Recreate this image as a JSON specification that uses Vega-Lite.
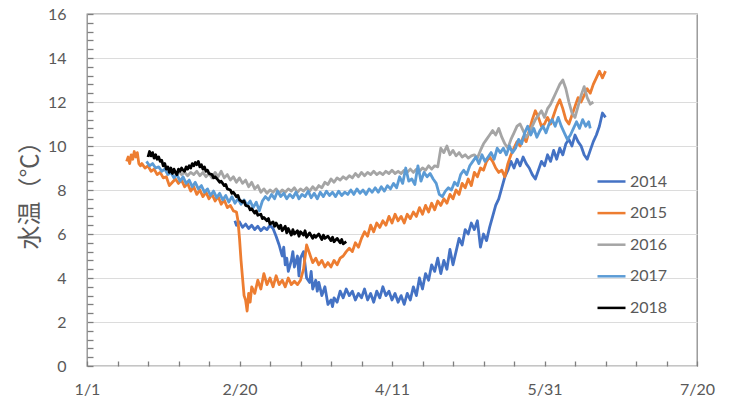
{
"$schema": "https://vega.github.io/schema/vega-lite/v6.json",
"width": 610, "height": 352,
"autosize": {"type": "none"},
"padding": {"left": 87, "top": 14, "right": 34, "bottom": 42},
"config": {"view": {"stroke": "#8c8c8c", "strokeWidth": 1.3}, "font": "Lato"},
"data": {"values": [
{"year":"2014","day":48.5,"temp":6.6},{"year":"2014","day":49,"temp":6.4},{"year":"2014","day":50,"temp":6.55},{"year":"2014","day":51,"temp":6.3},{"year":"2014","day":52,"temp":6.45},{"year":"2014","day":53,"temp":6.25},{"year":"2014","day":54,"temp":6.4},{"year":"2014","day":55,"temp":6.2},{"year":"2014","day":56,"temp":6.35},{"year":"2014","day":57,"temp":6.15},{"year":"2014","day":58,"temp":6.3},{"year":"2014","day":59,"temp":6.2},{"year":"2014","day":60,"temp":6.4},{"year":"2014","day":61,"temp":6.25},{"year":"2014","day":62,"temp":5.9},{"year":"2014","day":63,"temp":5.5},{"year":"2014","day":64,"temp":5.0},{"year":"2014","day":64.5,"temp":5.4},{"year":"2014","day":65,"temp":4.6},{"year":"2014","day":65.5,"temp":4.9},{"year":"2014","day":66,"temp":4.3},{"year":"2014","day":67,"temp":4.8},{"year":"2014","day":67.5,"temp":5.2},{"year":"2014","day":68,"temp":4.5},{"year":"2014","day":69,"temp":5.0},{"year":"2014","day":69.5,"temp":4.1},{"year":"2014","day":70,"temp":4.9},{"year":"2014","day":71,"temp":5.2},{"year":"2014","day":72,"temp":4.0},{"year":"2014","day":73,"temp":3.8},{"year":"2014","day":73.5,"temp":4.3},{"year":"2014","day":74,"temp":3.5},{"year":"2014","day":75,"temp":3.9},{"year":"2014","day":75.5,"temp":3.4},{"year":"2014","day":76,"temp":3.8},{"year":"2014","day":77,"temp":3.2},{"year":"2014","day":78,"temp":3.6},{"year":"2014","day":79,"temp":2.8},{"year":"2014","day":80,"temp":3.0},{"year":"2014","day":80.5,"temp":2.7},{"year":"2014","day":81,"temp":3.1},{"year":"2014","day":82,"temp":2.9},{"year":"2014","day":83,"temp":3.4},{"year":"2014","day":84,"temp":3.1},{"year":"2014","day":85,"temp":3.5},{"year":"2014","day":86,"temp":3.2},{"year":"2014","day":87,"temp":3.4},{"year":"2014","day":88,"temp":3.0},{"year":"2014","day":89,"temp":3.3},{"year":"2014","day":90,"temp":3.1},{"year":"2014","day":91,"temp":3.5},{"year":"2014","day":92,"temp":3.0},{"year":"2014","day":93,"temp":3.3},{"year":"2014","day":94,"temp":2.9},{"year":"2014","day":95,"temp":3.4},{"year":"2014","day":96,"temp":3.1},{"year":"2014","day":97,"temp":3.6},{"year":"2014","day":98,"temp":3.2},{"year":"2014","day":99,"temp":3.4},{"year":"2014","day":100,"temp":3.0},{"year":"2014","day":101,"temp":3.3},{"year":"2014","day":102,"temp":2.9},{"year":"2014","day":103,"temp":3.2},{"year":"2014","day":104,"temp":2.8},{"year":"2014","day":105,"temp":3.3},{"year":"2014","day":106,"temp":3.0},{"year":"2014","day":107,"temp":3.6},{"year":"2014","day":108,"temp":3.2},{"year":"2014","day":109,"temp":4.0},{"year":"2014","day":110,"temp":3.5},{"year":"2014","day":111,"temp":4.2},{"year":"2014","day":112,"temp":3.9},{"year":"2014","day":113,"temp":4.6},{"year":"2014","day":114,"temp":4.3},{"year":"2014","day":115,"temp":4.9},{"year":"2014","day":116,"temp":4.2},{"year":"2014","day":117,"temp":4.8},{"year":"2014","day":118,"temp":4.4},{"year":"2014","day":119,"temp":5.3},{"year":"2014","day":120,"temp":4.6},{"year":"2014","day":121,"temp":5.2},{"year":"2014","day":122,"temp":5.8},{"year":"2014","day":123,"temp":5.5},{"year":"2014","day":124,"temp":6.2},{"year":"2014","day":125,"temp":6.0},{"year":"2014","day":126,"temp":6.5},{"year":"2014","day":127,"temp":6.2},{"year":"2014","day":128,"temp":6.6},{"year":"2014","day":129,"temp":5.4},{"year":"2014","day":130,"temp":6.0},{"year":"2014","day":131,"temp":5.7},{"year":"2014","day":132,"temp":6.3},{"year":"2014","day":133,"temp":6.8},{"year":"2014","day":134,"temp":7.3},{"year":"2014","day":135,"temp":7.6},{"year":"2014","day":136,"temp":8.1},{"year":"2014","day":137,"temp":8.6},{"year":"2014","day":138,"temp":8.9},{"year":"2014","day":139,"temp":9.3},{"year":"2014","day":140,"temp":9.0},{"year":"2014","day":141,"temp":9.4},{"year":"2014","day":142,"temp":9.1},{"year":"2014","day":143,"temp":9.5},{"year":"2014","day":144,"temp":9.2},{"year":"2014","day":145,"temp":9.0},{"year":"2014","day":146,"temp":8.7},{"year":"2014","day":147,"temp":8.5},{"year":"2014","day":148,"temp":8.9},{"year":"2014","day":149,"temp":9.3},{"year":"2014","day":150,"temp":9.1},{"year":"2014","day":151,"temp":9.6},{"year":"2014","day":152,"temp":9.3},{"year":"2014","day":153,"temp":9.8},{"year":"2014","day":154,"temp":9.4},{"year":"2014","day":155,"temp":9.9},{"year":"2014","day":156,"temp":9.6},{"year":"2014","day":157,"temp":10.1},{"year":"2014","day":158,"temp":10.3},{"year":"2014","day":159,"temp":10.0},{"year":"2014","day":160,"temp":10.5},{"year":"2014","day":161,"temp":10.2},{"year":"2014","day":162,"temp":10.0},{"year":"2014","day":163,"temp":9.6},{"year":"2014","day":164,"temp":9.4},{"year":"2014","day":165,"temp":9.8},{"year":"2014","day":166,"temp":10.2},{"year":"2014","day":167,"temp":10.5},{"year":"2014","day":168,"temp":10.9},{"year":"2014","day":169,"temp":11.5},{"year":"2014","day":170,"temp":11.3},
{"year":"2015","day":13,"temp":9.3},{"year":"2015","day":13.5,"temp":9.5},{"year":"2015","day":14,"temp":9.2},{"year":"2015","day":14.5,"temp":9.6},{"year":"2015","day":15,"temp":9.4},{"year":"2015","day":15.5,"temp":9.75},{"year":"2015","day":16,"temp":9.5},{"year":"2015","day":16.5,"temp":9.7},{"year":"2015","day":17,"temp":9.2},{"year":"2015","day":17.5,"temp":9.1},{"year":"2015","day":18,"temp":9.2},{"year":"2015","day":19,"temp":9.0},{"year":"2015","day":20,"temp":9.1},{"year":"2015","day":21,"temp":8.85},{"year":"2015","day":22,"temp":8.95},{"year":"2015","day":23,"temp":8.7},{"year":"2015","day":24,"temp":8.8},{"year":"2015","day":25,"temp":8.55},{"year":"2015","day":26,"temp":8.6},{"year":"2015","day":27,"temp":8.2},{"year":"2015","day":28,"temp":8.35},{"year":"2015","day":29,"temp":8.5},{"year":"2015","day":30,"temp":8.3},{"year":"2015","day":31,"temp":8.45},{"year":"2015","day":32,"temp":8.15},{"year":"2015","day":33,"temp":8.3},{"year":"2015","day":34,"temp":7.95},{"year":"2015","day":35,"temp":8.15},{"year":"2015","day":36,"temp":7.8},{"year":"2015","day":37,"temp":8.0},{"year":"2015","day":38,"temp":7.7},{"year":"2015","day":39,"temp":7.9},{"year":"2015","day":40,"temp":7.6},{"year":"2015","day":41,"temp":7.8},{"year":"2015","day":42,"temp":7.5},{"year":"2015","day":43,"temp":7.7},{"year":"2015","day":44,"temp":7.35},{"year":"2015","day":45,"temp":7.55},{"year":"2015","day":46,"temp":7.2},{"year":"2015","day":47,"temp":7.3},{"year":"2015","day":48,"temp":7.05},{"year":"2015","day":49,"temp":7.0},{"year":"2015","day":49.5,"temp":6.6},{"year":"2015","day":50,"temp":5.8},{"year":"2015","day":50.5,"temp":4.8},{"year":"2015","day":51,"temp":4.0},{"year":"2015","day":51.5,"temp":3.2},{"year":"2015","day":52,"temp":3.0},{"year":"2015","day":52.5,"temp":2.5},{"year":"2015","day":53,"temp":3.3},{"year":"2015","day":53.5,"temp":2.9},{"year":"2015","day":54,"temp":3.6},{"year":"2015","day":55,"temp":3.3},{"year":"2015","day":56,"temp":3.9},{"year":"2015","day":57,"temp":3.5},{"year":"2015","day":58,"temp":4.2},{"year":"2015","day":59,"temp":3.7},{"year":"2015","day":60,"temp":4.0},{"year":"2015","day":61,"temp":3.6},{"year":"2015","day":62,"temp":4.1},{"year":"2015","day":63,"temp":3.7},{"year":"2015","day":64,"temp":3.9},{"year":"2015","day":65,"temp":3.6},{"year":"2015","day":66,"temp":4.0},{"year":"2015","day":67,"temp":3.7},{"year":"2015","day":68,"temp":3.85},{"year":"2015","day":69,"temp":3.7},{"year":"2015","day":70,"temp":3.9},{"year":"2015","day":71,"temp":4.4},{"year":"2015","day":72,"temp":5.5},{"year":"2015","day":73,"temp":5.1},{"year":"2015","day":74,"temp":4.7},{"year":"2015","day":75,"temp":4.9},{"year":"2015","day":76,"temp":4.6},{"year":"2015","day":77,"temp":4.8},{"year":"2015","day":78,"temp":4.5},{"year":"2015","day":79,"temp":4.7},{"year":"2015","day":80,"temp":4.5},{"year":"2015","day":81,"temp":4.8},{"year":"2015","day":82,"temp":4.6},{"year":"2015","day":83,"temp":4.9},{"year":"2015","day":84,"temp":5.0},{"year":"2015","day":85,"temp":5.2},{"year":"2015","day":86,"temp":5.35},{"year":"2015","day":87,"temp":5.2},{"year":"2015","day":88,"temp":5.6},{"year":"2015","day":89,"temp":5.4},{"year":"2015","day":90,"temp":5.8},{"year":"2015","day":91,"temp":6.1},{"year":"2015","day":92,"temp":5.9},{"year":"2015","day":93,"temp":6.4},{"year":"2015","day":94,"temp":6.1},{"year":"2015","day":95,"temp":6.5},{"year":"2015","day":96,"temp":6.3},{"year":"2015","day":97,"temp":6.6},{"year":"2015","day":98,"temp":6.4},{"year":"2015","day":99,"temp":6.8},{"year":"2015","day":100,"temp":6.5},{"year":"2015","day":101,"temp":6.9},{"year":"2015","day":102,"temp":6.6},{"year":"2015","day":103,"temp":6.8},{"year":"2015","day":104,"temp":6.5},{"year":"2015","day":105,"temp":6.9},{"year":"2015","day":106,"temp":6.7},{"year":"2015","day":107,"temp":7.0},{"year":"2015","day":108,"temp":6.8},{"year":"2015","day":109,"temp":7.2},{"year":"2015","day":110,"temp":6.9},{"year":"2015","day":111,"temp":7.3},{"year":"2015","day":112,"temp":7.0},{"year":"2015","day":113,"temp":7.4},{"year":"2015","day":114,"temp":7.1},{"year":"2015","day":115,"temp":7.5},{"year":"2015","day":116,"temp":7.3},{"year":"2015","day":117,"temp":7.6},{"year":"2015","day":118,"temp":7.4},{"year":"2015","day":119,"temp":7.8},{"year":"2015","day":120,"temp":7.6},{"year":"2015","day":121,"temp":8.0},{"year":"2015","day":122,"temp":7.8},{"year":"2015","day":123,"temp":8.3},{"year":"2015","day":124,"temp":8.1},{"year":"2015","day":125,"temp":8.5},{"year":"2015","day":126,"temp":8.2},{"year":"2015","day":127,"temp":8.8},{"year":"2015","day":128,"temp":8.6},{"year":"2015","day":129,"temp":9.0},{"year":"2015","day":130,"temp":8.9},{"year":"2015","day":131,"temp":9.3},{"year":"2015","day":132,"temp":9.5},{"year":"2015","day":133,"temp":9.3},{"year":"2015","day":134,"temp":9.0},{"year":"2015","day":135,"temp":8.8},{"year":"2015","day":136,"temp":8.9},{"year":"2015","day":137,"temp":8.6},{"year":"2015","day":138,"temp":9.2},{"year":"2015","day":139,"temp":9.6},{"year":"2015","day":140,"temp":9.9},{"year":"2015","day":141,"temp":10.2},{"year":"2015","day":142,"temp":10.0},{"year":"2015","day":143,"temp":10.4},{"year":"2015","day":144,"temp":10.2},{"year":"2015","day":145,"temp":10.7},{"year":"2015","day":146,"temp":11.2},{"year":"2015","day":147,"temp":11.6},{"year":"2015","day":148,"temp":11.3},{"year":"2015","day":149,"temp":10.9},{"year":"2015","day":150,"temp":11.0},{"year":"2015","day":151,"temp":11.3},{"year":"2015","day":152,"temp":11.0},{"year":"2015","day":153,"temp":11.4},{"year":"2015","day":154,"temp":11.8},{"year":"2015","day":155,"temp":12.1},{"year":"2015","day":156,"temp":11.7},{"year":"2015","day":157,"temp":11.2},{"year":"2015","day":158,"temp":11.0},{"year":"2015","day":159,"temp":11.4},{"year":"2015","day":160,"temp":11.8},{"year":"2015","day":161,"temp":12.2},{"year":"2015","day":162,"temp":12.0},{"year":"2015","day":163,"temp":12.3},{"year":"2015","day":164,"temp":12.6},{"year":"2015","day":165,"temp":12.4},{"year":"2015","day":166,"temp":12.8},{"year":"2015","day":167,"temp":13.1},{"year":"2015","day":168,"temp":13.4},{"year":"2015","day":169,"temp":13.1},{"year":"2015","day":170,"temp":13.4},
{"year":"2016","day":28,"temp":8.9},{"year":"2016","day":29,"temp":8.75},{"year":"2016","day":30,"temp":8.85},{"year":"2016","day":31,"temp":8.7},{"year":"2016","day":32,"temp":8.8},{"year":"2016","day":33,"temp":8.65},{"year":"2016","day":34,"temp":8.8},{"year":"2016","day":35,"temp":8.7},{"year":"2016","day":36,"temp":8.85},{"year":"2016","day":37,"temp":8.65},{"year":"2016","day":38,"temp":8.8},{"year":"2016","day":39,"temp":8.6},{"year":"2016","day":40,"temp":8.75},{"year":"2016","day":41,"temp":8.55},{"year":"2016","day":42,"temp":8.8},{"year":"2016","day":43,"temp":8.6},{"year":"2016","day":44,"temp":8.85},{"year":"2016","day":45,"temp":8.55},{"year":"2016","day":46,"temp":8.7},{"year":"2016","day":47,"temp":8.45},{"year":"2016","day":48,"temp":8.6},{"year":"2016","day":49,"temp":8.35},{"year":"2016","day":50,"temp":8.55},{"year":"2016","day":51,"temp":8.3},{"year":"2016","day":52,"temp":8.45},{"year":"2016","day":53,"temp":8.15},{"year":"2016","day":54,"temp":8.35},{"year":"2016","day":55,"temp":8.05},{"year":"2016","day":56,"temp":8.2},{"year":"2016","day":57,"temp":7.9},{"year":"2016","day":58,"temp":8.05},{"year":"2016","day":59,"temp":7.85},{"year":"2016","day":60,"temp":8.0},{"year":"2016","day":61,"temp":7.9},{"year":"2016","day":62,"temp":8.05},{"year":"2016","day":63,"temp":7.85},{"year":"2016","day":64,"temp":8.0},{"year":"2016","day":65,"temp":7.9},{"year":"2016","day":66,"temp":8.05},{"year":"2016","day":67,"temp":7.95},{"year":"2016","day":68,"temp":8.1},{"year":"2016","day":69,"temp":7.9},{"year":"2016","day":70,"temp":8.05},{"year":"2016","day":71,"temp":7.95},{"year":"2016","day":72,"temp":8.1},{"year":"2016","day":73,"temp":7.95},{"year":"2016","day":74,"temp":8.15},{"year":"2016","day":75,"temp":8.0},{"year":"2016","day":76,"temp":8.2},{"year":"2016","day":77,"temp":8.1},{"year":"2016","day":78,"temp":8.35},{"year":"2016","day":79,"temp":8.25},{"year":"2016","day":80,"temp":8.5},{"year":"2016","day":81,"temp":8.35},{"year":"2016","day":82,"temp":8.55},{"year":"2016","day":83,"temp":8.45},{"year":"2016","day":84,"temp":8.6},{"year":"2016","day":85,"temp":8.5},{"year":"2016","day":86,"temp":8.65},{"year":"2016","day":87,"temp":8.55},{"year":"2016","day":88,"temp":8.75},{"year":"2016","day":89,"temp":8.6},{"year":"2016","day":90,"temp":8.8},{"year":"2016","day":91,"temp":8.65},{"year":"2016","day":92,"temp":8.8},{"year":"2016","day":93,"temp":8.7},{"year":"2016","day":94,"temp":8.85},{"year":"2016","day":95,"temp":8.7},{"year":"2016","day":96,"temp":8.8},{"year":"2016","day":97,"temp":8.7},{"year":"2016","day":98,"temp":8.85},{"year":"2016","day":99,"temp":8.75},{"year":"2016","day":100,"temp":8.9},{"year":"2016","day":101,"temp":8.75},{"year":"2016","day":102,"temp":8.85},{"year":"2016","day":103,"temp":8.75},{"year":"2016","day":104,"temp":8.9},{"year":"2016","day":105,"temp":8.8},{"year":"2016","day":106,"temp":8.95},{"year":"2016","day":107,"temp":8.8},{"year":"2016","day":108,"temp":8.95},{"year":"2016","day":109,"temp":8.85},{"year":"2016","day":110,"temp":9.0},{"year":"2016","day":111,"temp":8.9},{"year":"2016","day":112,"temp":9.1},{"year":"2016","day":113,"temp":8.95},{"year":"2016","day":114,"temp":9.1},{"year":"2016","day":115,"temp":9.05},{"year":"2016","day":116,"temp":9.9},{"year":"2016","day":117,"temp":9.7},{"year":"2016","day":118,"temp":10.0},{"year":"2016","day":119,"temp":9.6},{"year":"2016","day":120,"temp":9.8},{"year":"2016","day":121,"temp":9.55},{"year":"2016","day":122,"temp":9.7},{"year":"2016","day":123,"temp":9.5},{"year":"2016","day":124,"temp":9.6},{"year":"2016","day":125,"temp":9.45},{"year":"2016","day":126,"temp":9.55},{"year":"2016","day":127,"temp":9.6},{"year":"2016","day":128,"temp":9.45},{"year":"2016","day":129,"temp":9.8},{"year":"2016","day":130,"temp":10.1},{"year":"2016","day":131,"temp":10.3},{"year":"2016","day":132,"temp":10.5},{"year":"2016","day":133,"temp":10.7},{"year":"2016","day":134,"temp":10.5},{"year":"2016","day":135,"temp":10.8},{"year":"2016","day":136,"temp":10.4},{"year":"2016","day":137,"temp":10.1},{"year":"2016","day":138,"temp":9.9},{"year":"2016","day":139,"temp":10.3},{"year":"2016","day":140,"temp":10.6},{"year":"2016","day":141,"temp":10.9},{"year":"2016","day":142,"temp":11.0},{"year":"2016","day":143,"temp":10.7},{"year":"2016","day":144,"temp":10.4},{"year":"2016","day":145,"temp":10.6},{"year":"2016","day":146,"temp":10.9},{"year":"2016","day":147,"temp":11.2},{"year":"2016","day":148,"temp":11.4},{"year":"2016","day":149,"temp":11.6},{"year":"2016","day":150,"temp":11.3},{"year":"2016","day":151,"temp":11.7},{"year":"2016","day":152,"temp":11.9},{"year":"2016","day":153,"temp":12.2},{"year":"2016","day":154,"temp":12.5},{"year":"2016","day":155,"temp":12.8},{"year":"2016","day":156,"temp":13.0},{"year":"2016","day":157,"temp":12.6},{"year":"2016","day":158,"temp":12.0},{"year":"2016","day":159,"temp":11.5},{"year":"2016","day":160,"temp":11.3},{"year":"2016","day":161,"temp":11.8},{"year":"2016","day":162,"temp":12.3},{"year":"2016","day":163,"temp":12.7},{"year":"2016","day":164,"temp":12.2},{"year":"2016","day":165,"temp":11.9},{"year":"2016","day":166,"temp":12.0},
{"year":"2017","day":19.5,"temp":9.3},{"year":"2017","day":20.5,"temp":9.1},{"year":"2017","day":21.5,"temp":9.2},{"year":"2017","day":22.5,"temp":9.0},{"year":"2017","day":23.5,"temp":9.05},{"year":"2017","day":24.5,"temp":8.85},{"year":"2017","day":25.5,"temp":8.95},{"year":"2017","day":26.5,"temp":8.7},{"year":"2017","day":27.5,"temp":8.8},{"year":"2017","day":28.5,"temp":8.55},{"year":"2017","day":29.5,"temp":8.7},{"year":"2017","day":30.5,"temp":8.4},{"year":"2017","day":31.5,"temp":8.6},{"year":"2017","day":32.5,"temp":8.3},{"year":"2017","day":33.5,"temp":8.45},{"year":"2017","day":34.5,"temp":8.15},{"year":"2017","day":35.5,"temp":8.35},{"year":"2017","day":36.5,"temp":8.05},{"year":"2017","day":37.5,"temp":8.2},{"year":"2017","day":38.5,"temp":7.9},{"year":"2017","day":39.5,"temp":8.05},{"year":"2017","day":40.5,"temp":7.75},{"year":"2017","day":41.5,"temp":7.95},{"year":"2017","day":42.5,"temp":7.65},{"year":"2017","day":43.5,"temp":7.85},{"year":"2017","day":44.5,"temp":7.55},{"year":"2017","day":45.5,"temp":7.75},{"year":"2017","day":46.5,"temp":7.45},{"year":"2017","day":47.5,"temp":7.7},{"year":"2017","day":48.5,"temp":7.4},{"year":"2017","day":49.5,"temp":7.6},{"year":"2017","day":50.5,"temp":7.35},{"year":"2017","day":51.5,"temp":7.55},{"year":"2017","day":52.5,"temp":7.3},{"year":"2017","day":53.5,"temp":7.5},{"year":"2017","day":54.5,"temp":7.2},{"year":"2017","day":55.5,"temp":7.45},{"year":"2017","day":56.5,"temp":7.05},{"year":"2017","day":57.5,"temp":7.5},{"year":"2017","day":58.5,"temp":7.7},{"year":"2017","day":59.5,"temp":7.55},{"year":"2017","day":60.5,"temp":7.8},{"year":"2017","day":61.5,"temp":7.6},{"year":"2017","day":62.5,"temp":7.95},{"year":"2017","day":63.5,"temp":7.7},{"year":"2017","day":64.5,"temp":7.85},{"year":"2017","day":65.5,"temp":7.6},{"year":"2017","day":66.5,"temp":7.8},{"year":"2017","day":67.5,"temp":7.65},{"year":"2017","day":68.5,"temp":7.9},{"year":"2017","day":69.5,"temp":7.6},{"year":"2017","day":70.5,"temp":7.8},{"year":"2017","day":71.5,"temp":7.7},{"year":"2017","day":72.5,"temp":7.95},{"year":"2017","day":73.5,"temp":7.65},{"year":"2017","day":74.5,"temp":7.85},{"year":"2017","day":75.5,"temp":7.6},{"year":"2017","day":76.5,"temp":7.9},{"year":"2017","day":77.5,"temp":7.7},{"year":"2017","day":78.5,"temp":7.95},{"year":"2017","day":79.5,"temp":7.75},{"year":"2017","day":80.5,"temp":7.9},{"year":"2017","day":81.5,"temp":7.7},{"year":"2017","day":82.5,"temp":7.95},{"year":"2017","day":83.5,"temp":7.75},{"year":"2017","day":84.5,"temp":7.9},{"year":"2017","day":85.5,"temp":7.8},{"year":"2017","day":86.5,"temp":8.0},{"year":"2017","day":87.5,"temp":7.8},{"year":"2017","day":88.5,"temp":8.05},{"year":"2017","day":89.5,"temp":7.85},{"year":"2017","day":90.5,"temp":8.0},{"year":"2017","day":91.5,"temp":7.8},{"year":"2017","day":92.5,"temp":8.05},{"year":"2017","day":93.5,"temp":7.9},{"year":"2017","day":94.5,"temp":8.1},{"year":"2017","day":95.5,"temp":7.9},{"year":"2017","day":96.5,"temp":8.15},{"year":"2017","day":97.5,"temp":7.95},{"year":"2017","day":98.5,"temp":8.2},{"year":"2017","day":99.5,"temp":8.05},{"year":"2017","day":100.5,"temp":8.3},{"year":"2017","day":101.5,"temp":8.1},{"year":"2017","day":102.5,"temp":8.6},{"year":"2017","day":103.5,"temp":8.3},{"year":"2017","day":104.5,"temp":9.0},{"year":"2017","day":105.5,"temp":8.4},{"year":"2017","day":106.5,"temp":8.5},{"year":"2017","day":107.5,"temp":8.25},{"year":"2017","day":108.5,"temp":9.1},{"year":"2017","day":109.5,"temp":8.4},{"year":"2017","day":110.5,"temp":8.8},{"year":"2017","day":111.5,"temp":8.6},{"year":"2017","day":112.5,"temp":8.75},{"year":"2017","day":113.5,"temp":8.5},{"year":"2017","day":114.5,"temp":8.3},{"year":"2017","day":115.5,"temp":7.8},{"year":"2017","day":116.5,"temp":7.7},{"year":"2017","day":117.5,"temp":7.95},{"year":"2017","day":118.5,"temp":8.1},{"year":"2017","day":119.5,"temp":8.0},{"year":"2017","day":120.5,"temp":8.35},{"year":"2017","day":121.5,"temp":8.2},{"year":"2017","day":122.5,"temp":8.7},{"year":"2017","day":123.5,"temp":8.9},{"year":"2017","day":124.5,"temp":8.7},{"year":"2017","day":125.5,"temp":9.1},{"year":"2017","day":126.5,"temp":9.3},{"year":"2017","day":127.5,"temp":9.5},{"year":"2017","day":128.5,"temp":9.2},{"year":"2017","day":129.5,"temp":9.6},{"year":"2017","day":130.5,"temp":9.3},{"year":"2017","day":131.5,"temp":9.5},{"year":"2017","day":132.5,"temp":9.7},{"year":"2017","day":133.5,"temp":9.4},{"year":"2017","day":134.5,"temp":9.9},{"year":"2017","day":135.5,"temp":9.7},{"year":"2017","day":136.5,"temp":9.9},{"year":"2017","day":137.5,"temp":9.6},{"year":"2017","day":138.5,"temp":10.0},{"year":"2017","day":139.5,"temp":9.7},{"year":"2017","day":140.5,"temp":9.9},{"year":"2017","day":141.5,"temp":10.3},{"year":"2017","day":142.5,"temp":10.1},{"year":"2017","day":143.5,"temp":10.6},{"year":"2017","day":144.5,"temp":10.9},{"year":"2017","day":145.5,"temp":10.5},{"year":"2017","day":146.5,"temp":10.8},{"year":"2017","day":147.5,"temp":10.4},{"year":"2017","day":148.5,"temp":10.7},{"year":"2017","day":149.5,"temp":10.9},{"year":"2017","day":150.5,"temp":10.6},{"year":"2017","day":151.5,"temp":11.0},{"year":"2017","day":152.5,"temp":11.2},{"year":"2017","day":153.5,"temp":10.9},{"year":"2017","day":154.5,"temp":11.3},{"year":"2017","day":155.5,"temp":10.9},{"year":"2017","day":156.5,"temp":10.6},{"year":"2017","day":157.5,"temp":10.3},{"year":"2017","day":158.5,"temp":10.5},{"year":"2017","day":159.5,"temp":10.8},{"year":"2017","day":160.5,"temp":11.1},{"year":"2017","day":161.5,"temp":10.8},{"year":"2017","day":162.5,"temp":11.2},{"year":"2017","day":163.5,"temp":10.9},{"year":"2017","day":164.5,"temp":11.1},{"year":"2017","day":165,"temp":10.8},
{"year":"2018","day":20,"temp":9.5},{"year":"2018","day":20.5,"temp":9.75},{"year":"2018","day":21,"temp":9.55},{"year":"2018","day":21.5,"temp":9.7},{"year":"2018","day":22,"temp":9.45},{"year":"2018","day":22.5,"temp":9.6},{"year":"2018","day":23,"temp":9.4},{"year":"2018","day":23.5,"temp":9.5},{"year":"2018","day":24,"temp":9.3},{"year":"2018","day":24.5,"temp":9.35},{"year":"2018","day":25,"temp":9.1},{"year":"2018","day":25.5,"temp":9.2},{"year":"2018","day":26,"temp":8.95},{"year":"2018","day":26.5,"temp":9.05},{"year":"2018","day":27,"temp":8.8},{"year":"2018","day":27.5,"temp":9.0},{"year":"2018","day":28,"temp":8.75},{"year":"2018","day":28.5,"temp":8.95},{"year":"2018","day":29,"temp":8.8},{"year":"2018","day":29.5,"temp":8.7},{"year":"2018","day":30,"temp":8.95},{"year":"2018","day":30.5,"temp":8.85},{"year":"2018","day":31,"temp":9.0},{"year":"2018","day":31.5,"temp":8.9},{"year":"2018","day":32,"temp":8.85},{"year":"2018","day":32.5,"temp":9.05},{"year":"2018","day":33,"temp":8.95},{"year":"2018","day":33.5,"temp":9.1},{"year":"2018","day":34,"temp":9.0},{"year":"2018","day":34.5,"temp":9.2},{"year":"2018","day":35,"temp":9.1},{"year":"2018","day":35.5,"temp":9.25},{"year":"2018","day":36,"temp":9.15},{"year":"2018","day":36.5,"temp":9.3},{"year":"2018","day":37,"temp":9.05},{"year":"2018","day":37.5,"temp":9.15},{"year":"2018","day":38,"temp":8.95},{"year":"2018","day":38.5,"temp":9.05},{"year":"2018","day":39,"temp":8.85},{"year":"2018","day":39.5,"temp":8.9},{"year":"2018","day":40,"temp":8.75},{"year":"2018","day":41,"temp":8.7},{"year":"2018","day":41.5,"temp":8.55},{"year":"2018","day":42,"temp":8.6},{"year":"2018","day":43,"temp":8.45},{"year":"2018","day":43.5,"temp":8.35},{"year":"2018","day":44,"temp":8.4},{"year":"2018","day":45,"temp":8.2},{"year":"2018","day":45.5,"temp":8.25},{"year":"2018","day":46,"temp":8.05},{"year":"2018","day":47,"temp":8.0},{"year":"2018","day":47.5,"temp":7.85},{"year":"2018","day":48,"temp":7.9},{"year":"2018","day":49,"temp":7.7},{"year":"2018","day":49.5,"temp":7.75},{"year":"2018","day":50,"temp":7.55},{"year":"2018","day":51,"temp":7.45},{"year":"2018","day":51.5,"temp":7.5},{"year":"2018","day":52,"temp":7.3},{"year":"2018","day":53,"temp":7.25},{"year":"2018","day":53.5,"temp":7.1},{"year":"2018","day":54,"temp":7.15},{"year":"2018","day":55,"temp":6.95},{"year":"2018","day":55.5,"temp":7.05},{"year":"2018","day":56,"temp":6.85},{"year":"2018","day":57,"temp":6.9},{"year":"2018","day":57.5,"temp":6.7},{"year":"2018","day":58,"temp":6.75},{"year":"2018","day":59,"temp":6.6},{"year":"2018","day":59.5,"temp":6.7},{"year":"2018","day":60,"temp":6.45},{"year":"2018","day":61,"temp":6.55},{"year":"2018","day":61.5,"temp":6.35},{"year":"2018","day":62,"temp":6.5},{"year":"2018","day":63,"temp":6.25},{"year":"2018","day":63.5,"temp":6.4},{"year":"2018","day":64,"temp":6.15},{"year":"2018","day":65,"temp":6.35},{"year":"2018","day":65.5,"temp":6.05},{"year":"2018","day":66,"temp":6.25},{"year":"2018","day":67,"temp":5.95},{"year":"2018","day":67.5,"temp":6.2},{"year":"2018","day":68,"temp":6.0},{"year":"2018","day":69,"temp":6.15},{"year":"2018","day":69.5,"temp":5.9},{"year":"2018","day":70,"temp":6.1},{"year":"2018","day":71,"temp":5.95},{"year":"2018","day":71.5,"temp":6.15},{"year":"2018","day":72,"temp":5.85},{"year":"2018","day":73,"temp":6.05},{"year":"2018","day":74,"temp":5.8},{"year":"2018","day":74.5,"temp":5.95},{"year":"2018","day":75,"temp":5.85},{"year":"2018","day":76,"temp":6.0},{"year":"2018","day":77,"temp":5.75},{"year":"2018","day":77.5,"temp":5.95},{"year":"2018","day":78,"temp":5.8},{"year":"2018","day":79,"temp":5.9},{"year":"2018","day":80,"temp":5.7},{"year":"2018","day":80.5,"temp":5.85},{"year":"2018","day":81,"temp":5.65},{"year":"2018","day":82,"temp":5.8},{"year":"2018","day":83,"temp":5.6},{"year":"2018","day":83.5,"temp":5.75},{"year":"2018","day":84,"temp":5.55},{"year":"2018","day":85,"temp":5.65}
]},
"mark": {"type": "line", "strokeWidth": 2.8, "strokeJoin": "round"},
"encoding": {
"x": {"field": "day", "type": "quantitative",
  "scale": {"domain": [0, 200], "nice": false, "zero": false},
  "axis": {"title": null, "grid": false, "domain": false, "offset": -5, "tickCount": 100, "ticks": true,
    "values": [0,10,20,30,40,50,60,70,80,90,100,110,120,130,140,150,160,170,180,190,200],
    "labelExpr": "datum.value == 0 ? '1/1' : datum.value == 50 ? '2/20' : datum.value == 100 ? '4/11' : datum.value == 150 ? '5/31' : datum.value == 200 ? '7/20' : ''",
    "labelOverlap": false, "labelFlush": false, "labelBound": false,
    "tickSize": 5, "tickWidth": 1.3, "labelPadding": 15, "tickColor": "#7f7f7f",
    "labelFont": "Lato", "labelFontSize": 16, "labelColor": "#595959"}},
"y": {"field": "temp", "type": "quantitative",
  "scale": {"domain": [0, 16], "nice": false, "zero": true},
  "axis": {"title": "水温（℃）", "titleFont": "Noto Sans CJK JP", "titleFontSize": 24, "titleFontWeight": "normal", "titleColor": "#595959",
    "titleX": -63, "titleY": 175, "titleAlign": "center", "titleBaseline": "middle", "titleAngle": -90,
    "domain": false, "offset": -6, "tickCount": 100, "ticks": true,
    "values": [0,0.4,0.8,1.2,1.6,2,2.4,2.8,3.2,3.6,4,4.4,4.8,5.2,5.6,6,6.4,6.8,7.2,7.6,8,8.4,8.8,9.2,9.6,10,10.4,10.8,11.2,11.6,12,12.4,12.8,13.2,13.6,14,14.4,14.8,15.2,15.6,16],
    "labelExpr": "datum.value % 2 === 0 ? '' + datum.value : ''",
    "labelOverlap": false, "labelFlush": false, "labelBound": false,
    "grid": true, "gridColor": "#dcdcdc", "gridWidth": 1,
    "gridOpacity": {"condition": {"test": "datum.value % 2 === 0", "value": 1}, "value": 0},
    "tickSize": 6, "tickWidth": 1.3, "labelPadding": 21, "tickColor": "#7f7f7f",
    "labelFont": "Lato", "labelFontSize": 16, "labelColor": "#595959"}},
"color": {"field": "year", "type": "nominal",
  "scale": {"domain": ["2014","2015","2016","2017","2018"], "range": ["#4472c4","#ed7d31","#a5a5a5","#5b9bd5","#000000"]},
  "legend": {"title": null, "orient": "none", "legendX": 509, "legendY": 152, "symbolType": "stroke", "symbolSize": 784, "symbolStrokeWidth": 2.5,
    "labelFont": "Lato", "labelFontSize": 16, "labelColor": "#595959", "labelOffset": 3, "rowPadding": 7.6, "symbolOpacity": 1}}
}
}
